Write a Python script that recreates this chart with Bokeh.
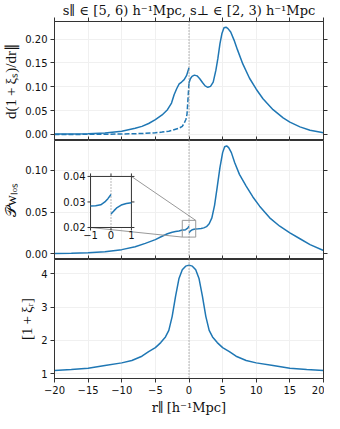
import numpy as np
from bokeh.plotting import figure
from bokeh.layouts import column
from bokeh.models import Range1d, Span, LinearAxis, FixedTicker, PrintfTickFormatter
from bokeh.core.properties import value
from bokeh.embed import file_html
from bokeh.resources import INLINE

# ---------------- data ----------------
x_ticks = [-20, -15, -10, -5, 0, 5, 10, 15, 20]
y1_ticks = [0.0, 0.05, 0.10, 0.15, 0.20]
y2_ticks = [0.0, 0.05, 0.10]
y3_ticks = [1, 2, 3, 4]

# panel 1: d(1+xi_s)/dr_par
x1_left = [-20, -17.5, -15, -12.5, -10, -8, -7, -6, -5, -4, -3.2, -2.6, -2.2, -1.8, -1.46, -1.1, -0.72, -0.35, 0]
y1_left = [0.001, 0.0012, 0.0015, 0.003, 0.007, 0.013, 0.017, 0.023, 0.031, 0.041, 0.052, 0.066, 0.084, 0.097,
           0.106, 0.110, 0.115, 0.124, 0.140]
x1_right = [0, 0.2, 0.45, 0.8, 1.2, 1.6, 2.0, 2.4, 2.8, 3.2, 3.6, 4.0, 4.3, 4.6, 4.9, 5.2, 5.5, 5.8, 6.2, 6.7,
            7.2, 8, 9, 10, 11, 12.5, 14, 15, 16.5, 18, 20]
y1_right = [0.108, 0.117, 0.122, 0.1245, 0.123, 0.117, 0.109, 0.102, 0.099, 0.101, 0.110, 0.135, 0.160, 0.190,
            0.212, 0.224, 0.225, 0.222, 0.215, 0.198, 0.178, 0.148, 0.118, 0.095, 0.075, 0.052, 0.035, 0.026,
            0.016, 0.009, 0.0035]
x1_dash = [-20, -15, -10, -7, -5, -4, -3, -2, -1.5, -1, -0.7, -0.45, -0.3, -0.17, -0.08, 0]
y1_dash = [0.0, 0.0003, 0.001, 0.002, 0.0035, 0.005, 0.007, 0.011, 0.013, 0.017, 0.024, 0.032, 0.042, 0.070,
           0.090, 0.108]

# panel 2: P_w_los
x2_left = [-20, -17.5, -15, -12.5, -10, -8, -6.5, -5, -4, -3.2, -2.5, -2, -1.5, -1, -0.75, -0.5, -0.3, -0.15, 0]
y2_left = [0.0003, 0.0007, 0.0012, 0.0025, 0.005, 0.0085, 0.0125, 0.017, 0.021, 0.024, 0.0258, 0.0266, 0.0273,
           0.0284, 0.0285, 0.0289, 0.0300, 0.0313, 0.0329]
x2_right = [0, 0.15, 0.3, 0.5, 0.75, 1.0, 1.4, 1.8, 2.2, 2.6, 3.0, 3.4, 3.8, 4.2, 4.6, 5.0, 5.3, 5.6, 5.9, 6.3,
            6.8, 7.5, 8.5, 9.5, 10.5, 12, 13.5, 15, 16.5, 18, 20]
y2_right = [0.0253, 0.0266, 0.0278, 0.0288, 0.0294, 0.0297, 0.0299, 0.0302, 0.0310, 0.0325, 0.0360, 0.043,
            0.058, 0.080, 0.103, 0.121, 0.128, 0.129, 0.127, 0.121, 0.109, 0.095, 0.081, 0.068, 0.057, 0.043,
            0.033, 0.025, 0.018, 0.011, 0.004]

# panel 3: 1 + xi_r
x3 = [-20, -17.5, -15, -12.5, -10, -8.5, -7, -6, -5, -4.2, -3.5, -3, -2.5, -2, -1.5, -1, -0.5, 0,
      0.5, 1, 1.5, 2, 2.5, 3, 3.5, 4.2, 5, 6, 7, 8.5, 10, 12.5, 15, 17.5, 20]
y3 = [1.09, 1.12, 1.16, 1.24, 1.32, 1.39, 1.52, 1.66, 1.78, 1.93, 2.10, 2.30, 2.72, 3.32, 3.85, 4.12, 4.23, 4.26,
      4.23, 4.12, 3.85, 3.32, 2.72, 2.30, 2.10, 1.93, 1.78, 1.66, 1.52, 1.39, 1.32, 1.24, 1.16, 1.12, 1.09]

# inset
ins_xlim = [-1, 1]
ins_ylim = [0.02, 0.04]
ins_xticks = [-1, 0, 1]
ins_xtick_labels = ["\u22121", "0", "1"]
ins_yticks = [0.02, 0.03, 0.04]
ins_ytick_labels = ["0.02", "0.03", "0.04"]

# ---------------- style ----------------
BLUE = "#1f77b4"
AX = "#333333"
GRID = "#f0f0f0"
FW, FH = 269, 119
TICK_FONT = "DejaVu Sans"
TICK_SIZE = "10px"
LAB_FONT = "Liberation Serif"
LAB_SIZE = "15px"
TITLE_FONT = "DejaVu Serif"


def style_axis(ax, t_in=0, t_out=4):
    ax.major_tick_in = t_in
    ax.major_tick_out = t_out
    ax.minor_tick_in = 0
    ax.minor_tick_out = 0
    ax.axis_line_color = AX
    ax.major_tick_line_color = AX
    ax.minor_tick_line_color = AX
    ax.major_label_text_font = TICK_FONT
    ax.major_label_text_font_size = TICK_SIZE
    ax.major_label_text_color = "#111111"
    ax.major_label_standoff = 3
    ax.axis_label_text_font = LAB_FONT
    ax.axis_label_text_font_size = LAB_SIZE
    ax.axis_label_text_font_style = "normal"
    ax.axis_label_text_color = "#111111"


def tick_only_axis(ticks, t_in=0, t_out=4):
    # an axis that only carries tick marks (as minor ticks) and no labels
    ax = LinearAxis(ticker=FixedTicker(ticks=[], minor_ticks=ticks))
    ax.major_tick_in = 0
    ax.major_tick_out = 0
    ax.minor_tick_in = t_in
    ax.minor_tick_out = t_out
    ax.axis_line_color = AX
    ax.minor_tick_line_color = AX
    ax.major_label_standoff = 0
    return ax


def make_panel(ylo, yhi, yticks, ylabel, fmt, top=0, last=False):
    p = figure(frame_width=FW, frame_height=FH, x_range=Range1d(-20, 20), y_range=Range1d(ylo, yhi),
               output_backend="svg", toolbar_location=None,
               x_axis_location="below" if last else None,
               min_border_left=49, min_border_right=6, min_border_top=top, min_border_bottom=0)
    p.outline_line_color = AX
    p.background_fill_color = "white"
    p.yaxis.ticker = FixedTicker(ticks=yticks)
    p.xgrid.ticker = FixedTicker(ticks=x_ticks)
    p.ygrid.ticker = FixedTicker(ticks=yticks)
    p.xgrid.grid_line_color = GRID
    p.ygrid.grid_line_color = GRID
    p.yaxis.formatter = PrintfTickFormatter(format=fmt)
    p.yaxis.axis_label = ylabel
    p.yaxis.axis_label_standoff = 3
    style_axis(p.yaxis[0])
    if last:
        p.xaxis.ticker = FixedTicker(ticks=x_ticks)
        style_axis(p.xaxis[0])
        p.xaxis.axis_label = "r\u2225\u2009[h\u207b\u00b9Mpc]"
        p.xaxis.axis_label_standoff = 3
        p.xaxis.axis_label_text_font = TITLE_FONT
        p.xaxis.axis_label_text_font_size = "13px"
    else:
        p.add_layout(tick_only_axis(x_ticks, t_in=4, t_out=0), "below")
    p.add_layout(tick_only_axis(yticks), "right")
    p.add_layout(Span(location=0, dimension="height", line_color="#8a8a8a", line_dash="1 2", line_width=1.2))
    return p


p1 = make_panel(-0.0126, 0.237, y1_ticks, "d(1\u2009+\u2009\u03be\u209b)/dr\u2225", "%.2f", top=19)
p1.add_layout(tick_only_axis(x_ticks), "above")
p1.title.text = "s\u2225 \u2208 [5, 6) h\u207b\u00b9Mpc, s\u22a5 \u2208 [2, 3) h\u207b\u00b9Mpc"
p1.title.text_font = TITLE_FONT
p1.title.text_font_size = "13px"
p1.title.text_font_style = "normal"
p1.title.align = "center"
p1.title.standoff = 0
p1.title.text_color = "#111111"
p1.line(x1_left, y1_left, line_color=BLUE, line_width=1.5)
p1.line(x1_right, y1_right, line_color=BLUE, line_width=1.5)
p1.line(x1_dash, y1_dash, line_color=BLUE, line_width=1.5, line_dash="5 2")

Y2LO, Y2HI = -0.0068, 0.1355
p2 = make_panel(Y2LO, Y2HI, y2_ticks, "\U0001d4abw\u2097\u2092\u209b", "%.2f")
p2.line(x2_left, y2_left, line_color=BLUE, line_width=1.5)
p2.line(x2_right, y2_right, line_color=BLUE, line_width=1.5)

# inset placed as [x0, y0, w, h] in axes fraction of panel 2
bx0, by0, bw, bh = 0.134, 0.269, 0.152, 0.429


def ext_range(lim, f0, fw):
    span = (lim[1] - lim[0]) / fw
    start = lim[0] - f0 * span
    return start, start + span


ixs, ixe = ext_range(ins_xlim, bx0, bw)
iys, iye = ext_range(ins_ylim, by0, bh)
p2.extra_x_ranges = {"ix": Range1d(ixs, ixe)}
p2.extra_y_ranges = {"iy": Range1d(iys, iye)}


def m2i_x(x):
    return ixs + (x + 20) / 40 * (ixe - ixs)


def m2i_y(y):
    return iys + (y - Y2LO) / (Y2HI - Y2LO) * (iye - iys)


IN = dict(x_range_name="ix", y_range_name="iy")
# zoom rectangle in main panel
p2.quad(left=[ins_xlim[0]], right=[ins_xlim[1]], bottom=[ins_ylim[0]], top=[ins_ylim[1]],
        fill_alpha=0, line_color="#999999", line_width=1)
# connectors
p2.segment(x0=[m2i_x(ins_xlim[1]), m2i_x(ins_xlim[0])], y0=[m2i_y(ins_ylim[1]), m2i_y(ins_ylim[0])],
           x1=[ins_xlim[1], ins_xlim[0]], y1=[ins_ylim[1], ins_ylim[0]],
           line_color="#999999", line_width=1, **IN)
# inset frame
p2.quad(left=[ins_xlim[0]], right=[ins_xlim[1]], bottom=[ins_ylim[0]], top=[ins_ylim[1]],
        fill_color="white", line_color=AX, line_width=1, **IN)
p2.segment(x0=[0], y0=[ins_ylim[0]], x1=[0], y1=[ins_ylim[1]], line_color="#8a8a8a", line_dash="1 2",
           line_width=1.2, **IN)
xl = np.array(x2_left); yl = np.array(y2_left)
xr = np.array(x2_right); yr = np.array(y2_right)
ml = (xl >= ins_xlim[0]) & (xl <= ins_xlim[1])
mr = (xr >= ins_xlim[0]) & (xr <= ins_xlim[1])
p2.line(xl[ml], yl[ml], line_color=BLUE, line_width=1.5, **IN)
p2.line(xr[mr], yr[mr], line_color=BLUE, line_width=1.5, **IN)
# inset ticks
p2.ray(x=[ins_xlim[0]] * 3, y=ins_yticks, length=3, length_units="screen", angle=np.pi, line_color=AX, **IN)
p2.ray(x=[ins_xlim[1]] * 3, y=ins_yticks, length=3, length_units="screen", angle=0, line_color=AX, **IN)
p2.ray(x=ins_xticks, y=[ins_ylim[0]] * 3, length=3, length_units="screen", angle=-np.pi / 2, line_color=AX, **IN)
p2.ray(x=ins_xticks, y=[ins_ylim[1]] * 3, length=3, length_units="screen", angle=np.pi / 2, line_color=AX, **IN)
p2.text(x=[ins_xlim[0]] * 3, y=ins_yticks, text=ins_ytick_labels, x_offset=-5, text_align="right",
        text_baseline="middle", text_font=value(TICK_FONT), text_font_size="10px", text_color="#111111", **IN)
p2.text(x=ins_xticks, y=[ins_ylim[0]] * 3, text=ins_xtick_labels, y_offset=4, text_align="center",
        text_baseline="top", text_font=value(TICK_FONT), text_font_size="10px", text_color="#111111", **IN)

p3 = make_panel(0.85, 4.43, y3_ticks, "[1\u2009+\u2009\u03be\u1d63]", "%d", last=True)
p3.line(x3, y3, line_color=BLUE, line_width=1.5)

layout = column(p1, p2, p3, spacing=0)
open("out.html", "w").write(file_html(layout, INLINE))
